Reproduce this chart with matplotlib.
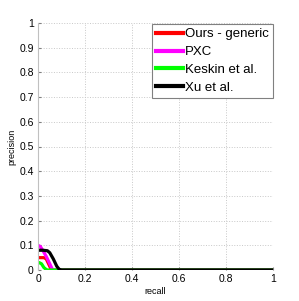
import matplotlib
matplotlib.use('Agg')
import matplotlib.pyplot as plt

plt.rcParams['font.family'] = ['Liberation Sans', 'DejaVu Sans']

# recall / precision samples
ours_r = [0.0, 0.01, 0.025, 0.035, 0.045, 0.055, 0.06, 1.0]
ours_p = [0.05, 0.05, 0.05, 0.045, 0.025, 0.005, 0.0, 0.0]
pxc_r = [0.0, 0.01, 0.02, 0.035, 0.05, 0.06, 0.065, 1.0]
pxc_p = [0.1, 0.095, 0.08, 0.055, 0.025, 0.005, 0.0, 0.0]
keskin_r = [0.0, 0.005, 0.015, 0.025, 0.035, 0.04, 1.0]
keskin_p = [0.03, 0.03, 0.025, 0.01, 0.002, 0.0, 0.0]
xu_r = [0.0, 0.02, 0.04, 0.05, 0.065, 0.08, 0.09, 0.1, 1.0]
xu_p = [0.08, 0.08, 0.078, 0.07, 0.045, 0.015, 0.003, 0.0, 0.0]

names = ['Ours - generic', 'PXC', 'Keskin et al.', 'Xu et al.']
colors = ['#ff0000', '#ff00ff', '#00ff00', '#000000']

fig = plt.figure(figsize=(2.99, 3.01), dpi=100)
ax = fig.add_axes([38 / 299, 31 / 301, 235 / 299, 247 / 301])

lw = 2.3
ax.plot(ours_r, ours_p, color=colors[0], lw=lw, label=names[0])
ax.plot(pxc_r, pxc_p, color=colors[1], lw=lw, label=names[1])
ax.plot(keskin_r, keskin_p, color=colors[2], lw=lw, label=names[2])
ax.plot(xu_r, xu_p, color=colors[3], lw=lw, label=names[3])

ax.set_xlim(0, 1)
ax.set_ylim(0, 1)
ax.set_xticks([0, 0.2, 0.4, 0.6, 0.8, 1])
ax.set_xticklabels(['0', '0.2', '0.4', '0.6', '0.8', '1'])
ax.set_yticks([i / 10 for i in range(11)])
ax.set_yticklabels(['0'] + ['%.1f' % (i / 10) for i in range(1, 10)] + ['1'])
ax.tick_params(labelsize=7.5, length=2, direction='in', color='#808080', pad=3)
ax.grid(True, linestyle=':', color='#c8c8c8', linewidth=0.7)
for s in ax.spines.values():
    s.set_visible(False)
ax.spines['left'].set_visible(True)
ax.spines['left'].set_color('#c0c0c0')

ax.set_xlabel('recall', fontsize=6.5, labelpad=2)
ax.set_ylabel('precision', fontsize=6.5, labelpad=2)

leg = ax.legend(loc='upper right', bbox_to_anchor=(1.0, 0.995), fontsize=9.5,
                frameon=True, fancybox=False, handlelength=2.0,
                handletextpad=0.2, borderpad=0.3, labelspacing=0.42,
                borderaxespad=0.0, edgecolor='#808080', framealpha=1)
leg.get_frame().set_linewidth(0.8)
for h in leg.get_lines():
    h.set_linewidth(3)

fig.savefig('out.png', dpi=100)
